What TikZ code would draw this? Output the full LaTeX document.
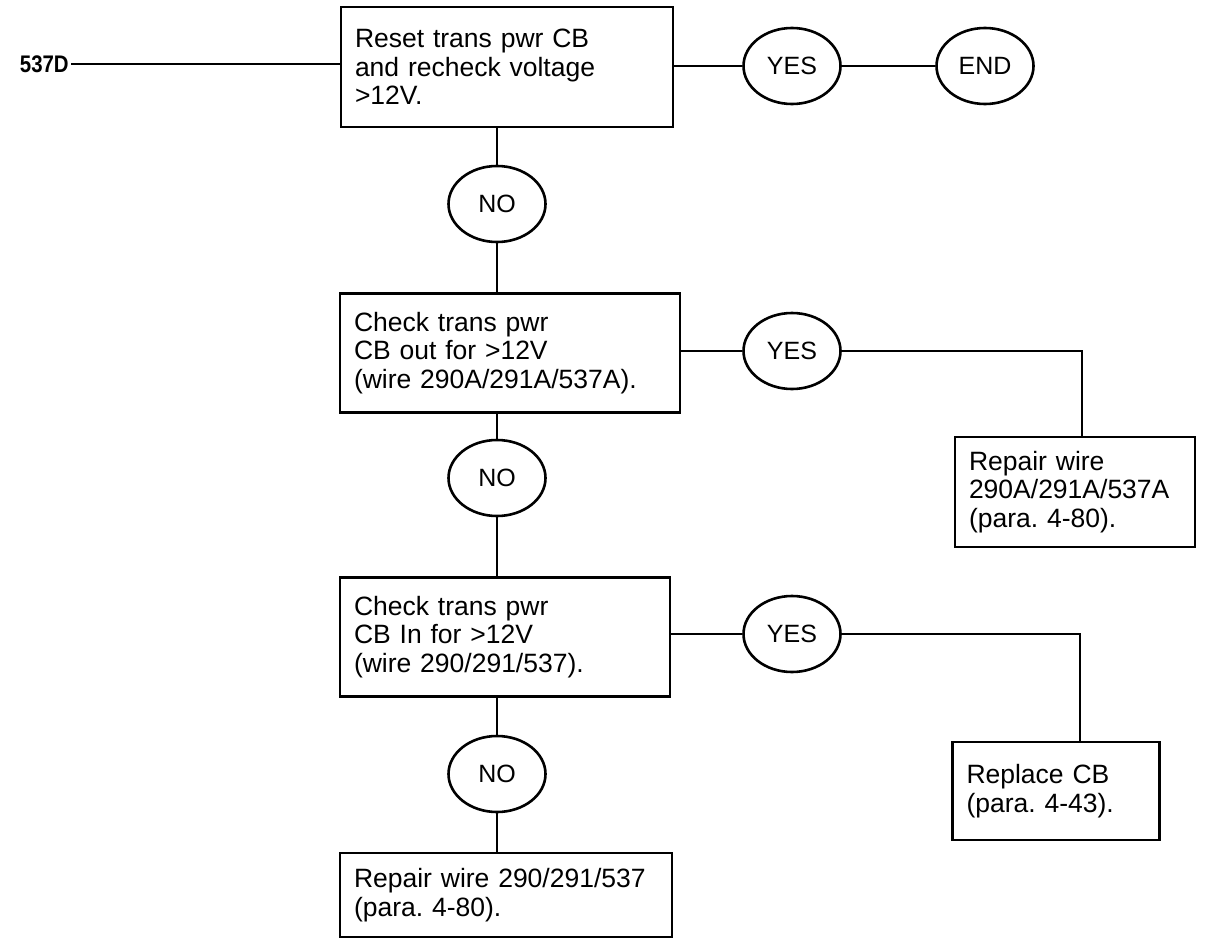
\documentclass[tikz,border=0pt]{standalone}
\usepackage{fontspec}
\setmainfont{Liberation Sans}
\usetikzlibrary{shapes.geometric}
\frenchspacing
\newcommand{\boxfont}{\fontsize{26.5}{28.5}\selectfont}
\newcommand{\tagfont}{\fontsize{25}{26}\selectfont}
\begin{document}
\begin{tikzpicture}[x=1pt,y=-1pt,
  every path/.style={line width=2.6pt},
  stepbox/.style={draw, line width=2.6pt, align=left, inner xsep=14pt, inner ysep=3pt, font=\boxfont, anchor=center},
  answer/.style={draw, ellipse, line width=2.6pt, minimum width=97pt, minimum height=76pt, inner sep=0pt, font=\tagfont}
]
\useasboundingbox (0,0) rectangle (1220,939);

% entry wire
\node[font=\fontsize{24}{25}\selectfont\bfseries, anchor=east, inner sep=1pt] (src) at (71,64)
  {\scalebox{0.85}[1]{537D}};

% main column of checks
\node[stepbox, text width=304pt, minimum width=332pt, minimum height=120pt] (b1) at (507,67)
  {Reset trans pwr CB\\and recheck voltage\\>12V.};
\node[stepbox, text width=312pt, minimum width=340pt, minimum height=119pt] (b2) at (510,353)
  {Check trans pwr\\CB out for >12V\\(wire 290A/291A/537A).};
\node[stepbox, text width=302pt, minimum width=330pt, minimum height=119pt] (b3) at (505,637)
  {Check trans pwr\\CB In for >12V\\(wire 290/291/537).};
\node[stepbox, text width=304pt, minimum width=332pt, minimum height=84pt] (b4) at (506,895)
  {Repair wire 290/291/537\\(para. 4-80).};

% right-hand actions
\node[stepbox, text width=212pt, minimum width=240pt, minimum height=110pt] (r1) at (1075,492)
  {Repair wire\\290A/291A/537A\\(para. 4-80).};
\node[stepbox, text width=179pt, minimum width=207pt, minimum height=98pt] (r2) at (1056,791)
  {Replace CB\\(para. 4-43).};

% answers
\node[answer] (yes1) at (792,66) {YES};
\node[answer] (end)  at (985,66) {END};
\node[answer] (no1)  at (497,204) {NO};
\node[answer] (yes2) at (792,351) {YES};
\node[answer] (no2)  at (497,478) {NO};
\node[answer] (yes3) at (792,634) {YES};
\node[answer] (no3)  at (497,774) {NO};

\coordinate (k1) at (1082,351);
\coordinate (k2) at (1080,634);

% connectors
\draw (src.east) -- (b1.west |- src);
\draw (b1.east |- yes1) -- (yes1);
\draw (yes1) -- (end);
\draw (b1.south -| no1) -- (no1);
\draw (no1) -- (no1 |- b2.north);
\draw (b2.east |- yes2) -- (yes2);
\draw (yes2) -- (k1) -- (k1 |- r1.north);
\draw (b2.south -| no2) -- (no2);
\draw (no2) -- (no2 |- b3.north);
\draw (b3.east |- yes3) -- (yes3);
\draw (yes3) -- (k2) -- (k2 |- r2.north);
\draw (b3.south -| no3) -- (no3);
\draw (no3) -- (no3 |- b4.north);
\end{tikzpicture}
\end{document}
